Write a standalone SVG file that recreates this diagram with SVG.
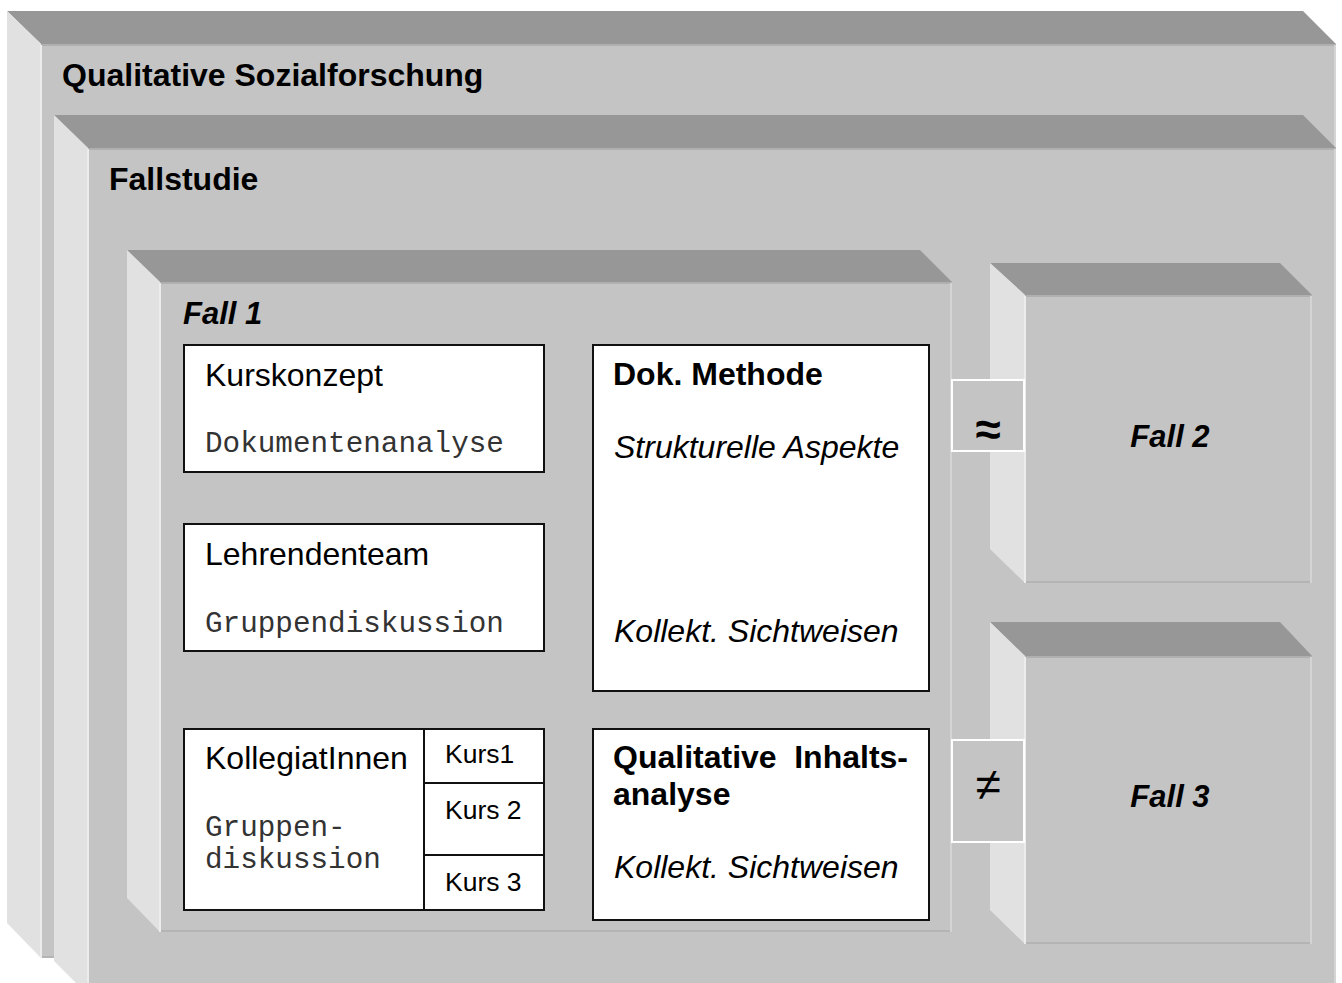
<svg xmlns="http://www.w3.org/2000/svg" width="1342" height="983" viewBox="0 0 1342 983">
<style>
.top{fill:#979797}
.side{fill:#e1e1e1}
.front{fill:#c4c4c4}
.eT{stroke:#b0b0b0;stroke-width:2}
.eB{stroke:#b4b4b4;stroke-width:2}
.eR{stroke:#d4d4d4;stroke-width:2}
.eL{stroke:#ececec;stroke-width:2}
.box{fill:#ffffff;stroke:#111;stroke-width:2}
.rel{fill:#c4c4c4;stroke:#ffffff;stroke-width:2}
.s{font-family:"Liberation Sans",Arial,sans-serif;fill:#000}
.b{font-weight:bold}
.i{font-style:italic}
.m{font-family:"Liberation Mono","Courier New",monospace;fill:#333}
</style>
<rect width="1342" height="983" fill="#ffffff"/>
<g id="qualitative-sozialforschung">
<polygon class="top" points="7,11 1303,11 1336,44 41,44"/>
<polygon class="side" points="7,11 41,44 41,958 7,923"/>
<rect class="front" x="41" y="44" width="1295" height="914"/>
<line class="eT" x1="41" y1="45" x2="1336" y2="45"/>
<line class="eB" x1="41" y1="957" x2="1336" y2="957"/>
<line class="eL" x1="41" y1="45" x2="41" y2="958"/>
<line class="eR" x1="1335" y1="45" x2="1335" y2="958"/>
<text class="s b" x="62" y="86" font-size="32">Qualitative Sozialforschung</text>
</g>
<g id="fallstudie">
<polygon class="top" points="54,115 1303,115 1336,148 88,148"/>
<polygon class="side" points="54,115 88,148 88,995 54,961"/>
<rect class="front" x="88" y="148" width="1248" height="847"/>
<line class="eT" x1="88" y1="149" x2="1336" y2="149"/>
<line class="eL" x1="88" y1="149" x2="88" y2="995"/>
<line class="eR" x1="1335" y1="149" x2="1335" y2="995"/>
<text class="s b" x="109" y="190" font-size="32">Fallstudie</text>
</g>
<g id="fall1">
<polygon class="top" points="127,250 920,250 952,282 160,282"/>
<polygon class="side" points="127,250 160,282 160,932 127,898"/>
<rect class="front" x="160" y="282" width="792" height="650"/>
<line class="eT" x1="160" y1="283" x2="952" y2="283"/>
<line class="eB" x1="160" y1="931" x2="952" y2="931"/>
<line class="eL" x1="160" y1="283" x2="160" y2="932"/>
<line class="eR" x1="951" y1="283" x2="951" y2="932"/>
<text class="s b i" x="183" y="324" font-size="31">Fall 1</text>
</g>
<g id="fall2">
<polygon class="top" points="990,263 1280,263 1312,295 1025,295"/>
<polygon class="side" points="990,263 1025,295 1025,583 990,549"/>
<rect class="front" x="1025" y="295" width="287" height="288"/>
<line class="eT" x1="1025" y1="296" x2="1312" y2="296"/>
<line class="eB" x1="1025" y1="582" x2="1312" y2="582"/>
<line class="eL" x1="1025" y1="296" x2="1025" y2="583"/>
<line class="eR" x1="1311" y1="296" x2="1311" y2="583"/>
<text class="s b i" x="1170" y="447" font-size="31" text-anchor="middle">Fall 2</text>
</g>
<g id="fall3">
<polygon class="top" points="990,622 1280,622 1312,656 1025,656"/>
<polygon class="side" points="990,622 1025,656 1025,944 990,910"/>
<rect class="front" x="1025" y="656" width="287" height="288"/>
<line class="eT" x1="1025" y1="657" x2="1312" y2="657"/>
<line class="eB" x1="1025" y1="943" x2="1312" y2="943"/>
<line class="eL" x1="1025" y1="657" x2="1025" y2="944"/>
<line class="eR" x1="1311" y1="657" x2="1311" y2="944"/>
<text class="s b i" x="1170" y="807" font-size="31" text-anchor="middle">Fall 3</text>
</g>
<g id="kurskonzept">
<rect class="box" x="184" y="345" width="360" height="127"/>
<text class="s" x="205" y="386" font-size="32">Kurskonzept</text>
<text class="m" x="205" y="452" font-size="29.3">Dokumentenanalyse</text>
</g>
<g id="lehrendenteam">
<rect class="box" x="184" y="524" width="360" height="127"/>
<text class="s" x="205" y="565" font-size="32">Lehrendenteam</text>
<text class="m" x="205" y="632" font-size="29.3">Gruppendiskussion</text>
</g>
<g id="kollegiatinnen">
<rect class="box" x="184" y="729" width="360" height="181"/>
<line x1="424" y1="729" x2="424" y2="910" stroke="#111" stroke-width="2"/>
<line x1="424" y1="783" x2="544" y2="783" stroke="#111" stroke-width="2"/>
<line x1="424" y1="855" x2="544" y2="855" stroke="#111" stroke-width="2"/>
<text class="s" x="205" y="769" font-size="32">KollegiatInnen</text>
<text class="m" x="205" y="836" font-size="29.3">Gruppen-</text>
<text class="m" x="205" y="868" font-size="29.3">diskussion</text>
<text class="s" x="445" y="763" font-size="26.5">Kurs1</text>
<text class="s" x="445" y="819" font-size="26.5">Kurs 2</text>
<text class="s" x="445" y="891" font-size="26.5">Kurs 3</text>
</g>
<g id="dok-methode">
<rect class="box" x="593" y="345" width="336" height="346"/>
<text class="s b" x="613" y="385" font-size="32">Dok. Methode</text>
<text class="s i" x="614" y="458" font-size="32">Strukturelle Aspekte</text>
<text class="s i" x="614" y="642" font-size="32">Kollekt. Sichtweisen</text>
</g>
<g id="inhaltsanalyse">
<rect class="box" x="593" y="729" width="336" height="191"/>
<text class="s b" x="613" y="768" font-size="32">Qualitative</text>
<text class="s b" x="908" y="768" font-size="32" text-anchor="end">Inhalts-</text>
<text class="s b" x="613" y="805" font-size="32">analyse</text>
<text class="s i" x="614" y="878" font-size="32">Kollekt. Sichtweisen</text>
</g>
<g id="connectors">
<g id="approx">
<rect class="rel" x="952" y="380" width="72" height="71"/>
<text class="s b" x="988" y="445" font-size="46" text-anchor="middle">≈</text>
</g>
<g id="notequal">
<rect class="rel" x="952" y="740" width="72" height="102"/>
<text class="s" x="988" y="800" font-size="46" text-anchor="middle">≠</text>
</g>
</g>
</svg>
